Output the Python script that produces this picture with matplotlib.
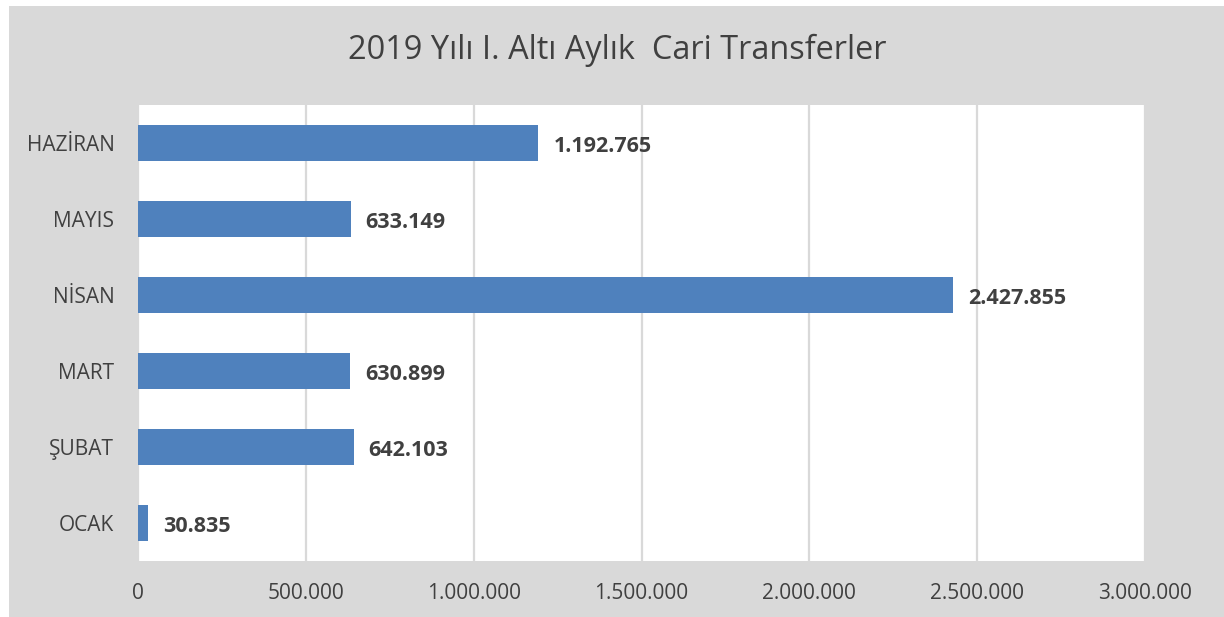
import matplotlib
matplotlib.use("Agg")
import matplotlib.pyplot as plt
from matplotlib.patches import Rectangle

months = ["OCAK", "ŞUBAT", "MART", "NİSAN", "MAYIS", "HAZİRAN"]
values = [30835, 642103, 630899, 2427855, 633149, 1192765]
xticks = [0, 500000, 1000000, 1500000, 2000000, 2500000, 3000000]


def tr_fmt(v):
    return f"{v:,.0f}".replace(",", ".")


plt.rcParams['font.family'] = ['Open Sans', 'DejaVu Sans']
txt = '#404040'

fig = plt.figure(figsize=(12.24, 6.17), dpi=100)
fig.patch.set_facecolor('white')
fig.patches.append(Rectangle((9 / 1224, 0), 1, 1 - 6 / 617, transform=fig.transFigure,
                             facecolor='#d9d9d9', edgecolor='none', zorder=-1))

ax = fig.add_axes([138 / 1224, 56 / 617, 1007 / 1224, 456 / 617])
ax.set_facecolor('white')
ax.barh(range(len(months)), values, height=0.47, color='#4f81bd', zorder=3)

for i, v in enumerate(values):
    ax.annotate(tr_fmt(v), (v, i), xytext=(15, -3), textcoords='offset pixels',
                va='center', ha='left', fontsize=15.5, fontweight='bold', color=txt)

ax.set_xlim(0, 3000000)
ax.set_ylim(-0.5, 5.5)
ax.set_xticks(xticks)
ax.set_xticklabels([tr_fmt(x) for x in xticks], fontsize=15, color=txt)
ax.set_yticks(range(len(months)))
ax.set_yticklabels(months, fontsize=15, color=txt)
ax.tick_params(length=0)
ax.tick_params(axis='x', pad=16)
ax.tick_params(axis='y', pad=17)
ax.grid(axis='x', color='#d9d9d9', linewidth=1.6, zorder=0)
for s in ax.spines.values():
    s.set_visible(False)

fig.text(617 / 1224, 1 - 50 / 617, "2019 Yılı I. Altı Aylık  Cari Transferler",
         ha='center', va='center', fontsize=23.4, color=txt)

fig.savefig("out.png", dpi=100)
